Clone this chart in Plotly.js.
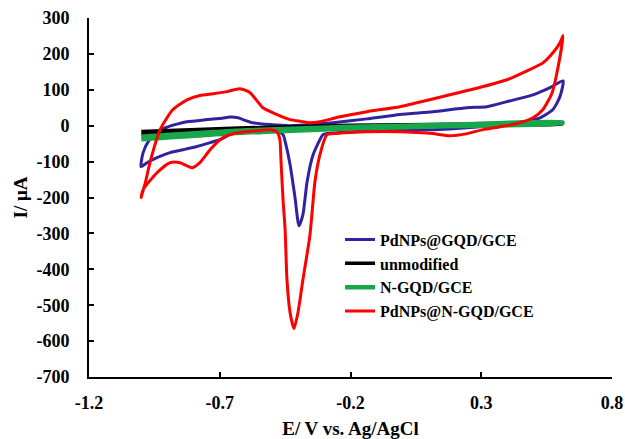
<!DOCTYPE html>
<html>
<head>
<meta charset="utf-8">
<script src="https://cdn.plot.ly/plotly-3.0.1.min.js"></script>
<style>html,body{margin:0;padding:0;background:#fff;}#chart{width:625px;height:439px;}</style>
</head>
<body>
<div id="chart"></div>
<script>
// Series names (legend order)
const seriesNames = ["PdNPs@GQD/GCE", "unmodified", "N-GQD/GCE", "PdNPs@N-GQD/GCE"];

// PdNPs@GQD/GCE (blue) – closed CV loop: anodic branch then cathodic branch
const blueE = [-1.001,-0.993,-0.970,-0.940,-0.905,-0.860,-0.825,-0.749,-0.690,-0.661,-0.630,-0.611,-0.573,-0.508,-0.431,-0.330,-0.267,-0.137,-0.011,0.115,0.246,0.322,0.398,0.498,0.563,0.613,
               0.601,0.574,0.525,0.460,0.372,0.246,0.115,-0.011,-0.137,-0.240,-0.290,-0.305,-0.343,-0.366,-0.382,-0.397,-0.412,-0.431,-0.447,-0.458,-0.489,-0.535,-0.623,-0.661,-0.699,-0.737,-0.787,-0.840,-0.890,-0.940,-0.978,-1.001];
const blueI = [-114,-75,-40,-18,-5,5,11,17,21,24,22,17,8,3,0,4,8,19,31,39,50,53,67,86,106,125,
               81,45,22,11,3,-6,-11,-11,-14,-19,-22,-25,-81,-156,-248,-279,-201,-109,-53,-25,-11,-19,-19,-25,-39,-47,-58,-67,-75,-89,-103,-114];

// unmodified (black)
const blackE = [-1.0,-0.6,-0.2,0.2,0.61, 0.61,0.2,-0.2,-0.6,-1.0];
const blackI = [-16,-6,1,4,7, 5,1,-3,-10,-22];

// N-GQD/GCE (green)
const greenE = [-1.0,-0.6,-0.2,0.2,0.61, 0.61,0.2,-0.2,-0.6,-1.0];
const greenI = [-31,-13,-3,3,10, 7,-1,-8,-19,-38];

// PdNPs@N-GQD/GCE (red)
const redE = [-1.001,-0.985,-0.967,-0.928,-0.879,-0.825,-0.776,-0.726,-0.672,-0.623,-0.584,-0.535,-0.481,-0.431,-0.390,-0.355,-0.317,-0.240,-0.137,-0.011,0.054,0.180,0.307,0.398,0.475,0.536,0.574,0.601,0.613,
              0.594,0.571,0.536,0.498,0.437,0.372,0.307,0.246,0.180,0.115,0.054,-0.011,-0.137,-0.202,-0.267,-0.290,-0.317,-0.336,-0.355,-0.382,-0.401,-0.416,-0.431,-0.443,-0.450,-0.458,-0.466,-0.470,-0.481,-0.508,-0.558,-0.623,-0.661,-0.699,-0.737,-0.776,-0.806,-0.852,-0.890,-0.940,-0.993,-1.001];
const redI = [-200,-160,-103,-11,45,72,84,89,95,103,92,50,31,17,12,8,11,25,39,53,64,86,109,128,153,175,203,231,251,
              164,92,45,22,6,-3,-11,-22,-28,-22,-19,-17,-17,-19,-22,-25,-81,-156,-304,-429,-521,-565,-521,-429,-290,-206,-95,-39,-17,-11,-14,-19,-25,-39,-67,-103,-117,-103,-103,-131,-178,-200];

const xTickVals = [-1.2, -0.7, -0.2, 0.3, 0.8];
const yTickVals = [-700,-600,-500,-400,-300,-200,-100,0,100,200,300];

const serif = "Liberation Serif, Times New Roman, serif";
const mk = (x, y, name, color, w) => ({
  x: x, y: y, name: name, type: "scatter", mode: "lines",
  line: {color: color, width: w, shape: "spline", smoothing: 0.6}
});

const data = [
  mk(blueE, blueI, seriesNames[0], "#3122a0", 3),
  mk(blackE, blackI, seriesNames[1], "#000000", 3.5),
  mk(greenE, greenI, seriesNames[2], "#17a64a", 4.5),
  mk(redE, redI, seriesNames[3], "#ff0000", 3)
];

const axisCommon = {
  showgrid: false, zeroline: false, showline: true, linecolor: "#000", linewidth: 2,
  ticks: "inside", ticklen: 5, tickwidth: 2, tickcolor: "#000",
  tickfont: {family: serif, size: 18, color: "#000", weight: "bold"}
};

const layout = {
  width: 625, height: 439,
  margin: {l: 89, r: 13, t: 18, b: 62},
  paper_bgcolor: "#fff", plot_bgcolor: "#fff",
  showlegend: true,
  legend: {
    x: 0.48, y: 0.43, xanchor: "left", yanchor: "top",
    bgcolor: "rgba(0,0,0,0)", borderwidth: 0,
    font: {family: serif, size: 16, color: "#000", weight: "bold"},
    tracegroupgap: 0
  },
  xaxis: Object.assign({}, axisCommon, {
    range: [-1.2, 0.8], tickvals: xTickVals, ticktext: xTickVals.map(String),
    ticklabelstandoff: 8,
    title: {text: "E/ V vs. Ag/AgCl", font: {family: serif, size: 19, color: "#000", weight: "bold"}, standoff: 16}
  }),
  yaxis: Object.assign({}, axisCommon, {
    range: [-700, 300], tickvals: yTickVals, ticktext: yTickVals.map(String),
    ticklabelstandoff: 14,
    title: {text: "I/ μA", font: {family: serif, size: 19, color: "#000", weight: "bold"}, standoff: 4}
  })
};

Plotly.newPlot("chart", data, layout, {displayModeBar: false, staticPlot: true});
</script>
</body>
</html>
